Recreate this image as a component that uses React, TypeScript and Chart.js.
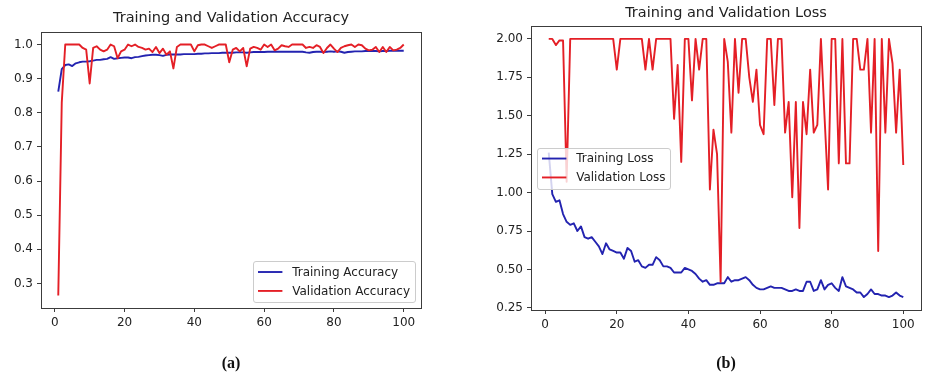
import React, { useEffect, useRef } from "react";
import { Chart, registerables } from "chart.js";

Chart.register(...registerables);

// ---------- data ----------
const trainAcc = [
  0.862, 0.928, 0.94, 0.942, 0.937, 0.945, 0.948, 0.95, 0.95, 0.951,
  0.953, 0.955, 0.955, 0.957, 0.958, 0.963, 0.958, 0.96, 0.961, 0.962,
  0.962, 0.96, 0.963, 0.964, 0.966, 0.968, 0.969, 0.97, 0.97, 0.969,
  0.967, 0.97, 0.971, 0.971, 0.971, 0.971, 0.972, 0.972, 0.972, 0.972,
  0.973, 0.973, 0.974, 0.974, 0.975, 0.975, 0.975, 0.976, 0.976, 0.976,
  0.976, 0.977, 0.977, 0.977, 0.976, 0.977, 0.978, 0.978, 0.978, 0.978,
  0.979, 0.979, 0.979, 0.979, 0.979, 0.979, 0.979, 0.979, 0.979, 0.979,
  0.979, 0.977, 0.976, 0.978, 0.979, 0.979, 0.978, 0.979, 0.98, 0.979,
  0.98, 0.979, 0.976, 0.978, 0.979, 0.98, 0.98, 0.98, 0.981, 0.981,
  0.981, 0.981, 0.98, 0.981, 0.981, 0.982, 0.982, 0.982, 0.982, 0.982,
];
const valAcc = [
  0.265, 0.83, 1.0, 1.0, 1.0, 1.0, 1.0, 0.99, 0.985, 0.886,
  0.99, 0.995, 0.985, 0.98, 0.985, 1.0, 0.995, 0.96, 0.98, 0.985,
  1.0, 0.995, 1.0, 0.993, 0.99, 0.985, 0.988, 0.978, 0.993, 0.975,
  0.988, 0.97, 0.98, 0.93, 0.993, 1.0, 1.0, 1.0, 1.0, 0.98,
  0.998, 1.0, 1.0, 0.995, 0.99, 0.995, 1.0, 1.0, 1.0, 0.948,
  0.985, 0.99, 0.98, 0.99, 0.936, 0.988, 0.993, 0.99, 0.985, 1.0,
  0.993, 1.0, 0.983, 0.988, 0.998, 0.995, 0.993, 1.0, 1.0, 1.0,
  1.0, 0.99, 0.993, 0.99, 0.998, 0.993, 0.975, 0.99, 1.0, 0.988,
  0.978, 0.99, 0.995, 0.998, 1.0, 0.993, 1.0, 0.998, 0.988, 0.983,
  0.985, 0.993, 0.978, 0.993, 0.978, 0.993, 0.983, 0.985, 0.99, 1.0,
];
const trainLoss = [
  1.26, 0.99, 0.94, 0.95, 0.86, 0.81, 0.79, 0.8, 0.75, 0.78,
  0.71, 0.7, 0.71, 0.68, 0.65, 0.6, 0.67, 0.63, 0.62, 0.61,
  0.61, 0.57, 0.64, 0.62, 0.55, 0.56, 0.52, 0.51, 0.53, 0.53,
  0.58, 0.56, 0.52, 0.52, 0.51, 0.48, 0.48, 0.48, 0.51, 0.5,
  0.49, 0.47, 0.44, 0.42, 0.43, 0.4, 0.4, 0.41, 0.41, 0.41,
  0.45, 0.42, 0.43, 0.43, 0.44, 0.45, 0.43, 0.4, 0.38, 0.37,
  0.37, 0.38, 0.39, 0.38, 0.38, 0.38, 0.37, 0.36, 0.36, 0.37,
  0.36, 0.36, 0.42, 0.42, 0.36, 0.37, 0.43, 0.37, 0.4, 0.41,
  0.38, 0.36, 0.45, 0.39, 0.38, 0.37, 0.35, 0.35, 0.32, 0.34,
  0.37, 0.34, 0.34, 0.33, 0.33, 0.32, 0.33, 0.35, 0.33, 0.32,
];
const valLoss = [
  2.0, 2.0, 1.96, 1.99, 1.99, 1.07, 2.0, 2.0, 2.0, 2.0,
  2.0, 2.0, 2.0, 2.0, 2.0, 2.0, 2.0, 2.0, 2.0, 1.8,
  2.0, 2.0, 2.0, 2.0, 2.0, 2.0, 2.0, 1.8, 2.0, 1.8,
  2.0, 2.0, 2.0, 2.0, 2.0, 1.48, 1.83, 1.2, 2.0, 2.0,
  1.6, 2.0, 1.8, 2.0, 2.0, 1.02, 1.41, 1.25, 0.42, 2.0,
  1.85, 1.39, 2.0, 1.65, 2.0, 2.0, 1.75, 1.59, 1.8, 1.44,
  1.38, 2.0, 2.0, 1.57, 2.0, 2.0, 1.39, 1.59, 0.97, 1.59,
  0.77, 1.59, 1.38, 1.8, 1.39, 1.44, 2.0, 1.5, 1.02, 2.0,
  2.0, 1.19, 2.0, 1.19, 1.19, 2.0, 2.0, 1.8, 1.8, 2.0,
  1.39, 2.0, 0.62, 2.0, 1.39, 2.0, 1.84, 1.39, 1.8, 1.18,
];
const epochs = trainAcc.map((_, i) => i + 1);
const xTicks = [0, 20, 40, 60, 80, 100];
const accTicks = [0.3, 0.4, 0.5, 0.6, 0.7, 0.8, 0.9, 1.0];
const lossTicks = [0.25, 0.5, 0.75, 1.0, 1.25, 1.5, 1.75, 2.0];

// ---------- styling ----------
const FONT = "'DejaVu Sans', sans-serif";
const SERIF = "'Liberation Serif', 'Times New Roman', serif";
const BLUE = "#2323b0";
const RED = "#e41f26";
const TEXT = "#222222";
const AXIS = "#3c3c3c";

function marginRange(arrays: number[][]) {
  const all = arrays.flat();
  const mn = Math.min(...all);
  const mx = Math.max(...all);
  const m = (mx - mn) * 0.05;
  return [mn - m, mx + m];
}

const framePlugin = {
  id: "mplFrame",
  afterDatasetsDraw(chart: any) {
    const { ctx, chartArea: a } = chart;
    ctx.save();
    ctx.strokeStyle = AXIS;
    ctx.lineWidth = 1;
    ctx.strokeRect(
      Math.round(a.left) + 0.5,
      Math.round(a.top) + 0.5,
      Math.round(a.right - a.left),
      Math.round(a.bottom - a.top)
    );
    ctx.restore();
  },
};

const legendPlugin = {
  id: "mplLegend",
  afterDraw(chart: any, _args: any, opts: any) {
    const { ctx, chartArea: a } = chart;
    const em = 12.2;
    const ds = chart.data.datasets;
    ctx.save();
    ctx.font = `12px ${FONT}`;
    const textW = Math.max(...ds.map((d: any) => ctx.measureText(d.label).width));
    const pad = 0.4 * em;
    const handle = 2 * em;
    const gap = 0.8 * em;
    const pitch = 1.55 * em;
    const edge = 0.5 * em;
    const w = pad * 2 + handle + gap + textW;
    const h = pad * 2 + em + pitch * (ds.length - 1);
    let x: number, y: number;
    if (opts.loc === "lower right") {
      x = a.right - edge - w;
      y = a.bottom - edge - h;
    } else {
      x = a.left + edge;
      y = (a.top + a.bottom) / 2 - h / 2;
    }
    ctx.beginPath();
    ctx.roundRect(Math.round(x) + 0.5, Math.round(y) + 0.5, Math.round(w), Math.round(h), 2.5);
    ctx.fillStyle = "rgba(255,255,255,0.8)";
    ctx.fill();
    ctx.strokeStyle = "#cccccc";
    ctx.lineWidth = 1;
    ctx.stroke();
    ds.forEach((d: any, i: number) => {
      const cy = y + pad + em / 2 + i * pitch;
      ctx.beginPath();
      ctx.moveTo(x + pad, cy);
      ctx.lineTo(x + pad + handle, cy);
      ctx.strokeStyle = d.borderColor;
      ctx.lineWidth = d.borderWidth;
      ctx.stroke();
      ctx.fillStyle = TEXT;
      ctx.textBaseline = "middle";
      ctx.textAlign = "left";
      ctx.fillText(d.label, x + pad + handle + gap, cy + 0.5);
    });
    ctx.restore();
  },
};

type PanelProps = {
  left: number;
  width: number;
  title: string;
  caption: string;
  series: { label: string; data: number[]; color: string; order: number }[];
  yTicks: number[];
  decimals: number;
  yAxisWidth: number;
  padRight: number;
  titlePad: { top: number; bottom: number };
  captionPadTop: number;
  legendLoc: string;
};

function Panel(p: PanelProps) {
  const ref = useRef<HTMLCanvasElement | null>(null);
  useEffect(() => {
    if (!ref.current) return;
    const [ymin, ymax] = marginRange(p.series.map((s) => s.data));
    const xm = (epochs[epochs.length - 1] - epochs[0]) * 0.05;
    const chart = new Chart(ref.current, {
      type: "line",
      data: {
        datasets: p.series.map((s) => ({
          label: s.label,
          data: s.data.map((v, i) => ({ x: epochs[i], y: v })),
          borderColor: s.color,
          backgroundColor: s.color,
          borderWidth: 1.9,
          borderJoinStyle: "round",
          pointRadius: 0,
          tension: 0,
          fill: false,
          order: s.order,
        })),
      },
      options: {
        responsive: false,
        animation: false,
        events: [],
        layout: { padding: { left: 0, right: p.padRight, top: 0, bottom: 0 } },
        scales: {
          x: {
            type: "linear",
            min: epochs[0] - xm,
            max: epochs[epochs.length - 1] + xm,
            afterBuildTicks: (s: any) => {
              s.ticks = xTicks.map((v) => ({ value: v }));
            },
            afterFit: (s: any) => {
              s.height = 30;
            },
            ticks: {
              autoSkip: false,
              maxRotation: 0,
              padding: 4,
              color: TEXT,
              font: { family: FONT, size: 12 },
              callback: (v: any) => String(v),
            },
            grid: { display: true, drawOnChartArea: false, drawTicks: true, tickLength: 4, color: AXIS },
            border: { display: false },
          },
          y: {
            type: "linear",
            min: ymin,
            max: ymax,
            afterBuildTicks: (s: any) => {
              s.ticks = p.yTicks.map((v) => ({ value: v }));
            },
            afterFit: (s: any) => {
              s.width = p.yAxisWidth;
            },
            ticks: {
              autoSkip: false,
              padding: 4,
              color: TEXT,
              font: { family: FONT, size: 12 },
              callback: (v: any) => Number(v).toFixed(p.decimals),
            },
            grid: { display: true, drawOnChartArea: false, drawTicks: true, tickLength: 4, color: AXIS },
            border: { display: false },
          },
        },
        plugins: {
          legend: { display: false },
          tooltip: { enabled: false },
          title: {
            display: true,
            text: p.title,
            fullSize: false,
            color: TEXT,
            font: { family: FONT, size: 14.5, weight: "normal" },
            padding: p.titlePad,
          },
          subtitle: {
            display: true,
            position: "bottom",
            text: p.caption,
            fullSize: false,
            color: "#111111",
            font: { family: SERIF, size: 16, weight: "bold" },
            padding: { top: p.captionPadTop, bottom: 8 },
          },
          mplLegend: { loc: p.legendLoc },
        } as any,
      },
      plugins: [framePlugin, legendPlugin],
    } as any);
    return () => chart.destroy();
  }, []);
  return (
    <canvas
      ref={ref}
      width={p.width}
      height={381}
      style={{ position: "absolute", left: p.left, top: 0, width: p.width, height: 381 }}
    />
  );
}

export default function App() {
  return (
    <div style={{ position: "absolute", left: 0, top: 0, width: 935, height: 381, background: "#ffffff" }}>
      <Panel
        left={0}
        width={470}
        title="Training and Validation Accuracy"
        caption="(a)"
        series={[
          { label: "Training Accuracy", data: trainAcc, color: BLUE, order: 1 },
          { label: "Validation Accuracy", data: valAcc, color: RED, order: 0 },
        ]}
        yTicks={accTicks}
        decimals={1}
        yAxisWidth={41}
        padRight={49}
        titlePad={{ top: 9.3, bottom: 5.3 }}
        captionPadTop={15.8}
        legendLoc="lower right"
      />
      <Panel
        left={470}
        width={465}
        title="Training and Validation Loss"
        caption="(b)"
        series={[
          { label: "Training Loss", data: trainLoss, color: BLUE, order: 1 },
          { label: "Validation Loss", data: valLoss, color: RED, order: 0 },
        ]}
        yTicks={lossTicks}
        decimals={2}
        yAxisWidth={61}
        padRight={14}
        titlePad={{ top: 4.6, bottom: 4.0 }}
        captionPadTop={13.8}
        legendLoc="center left"
      />
    </div>
  );
}
